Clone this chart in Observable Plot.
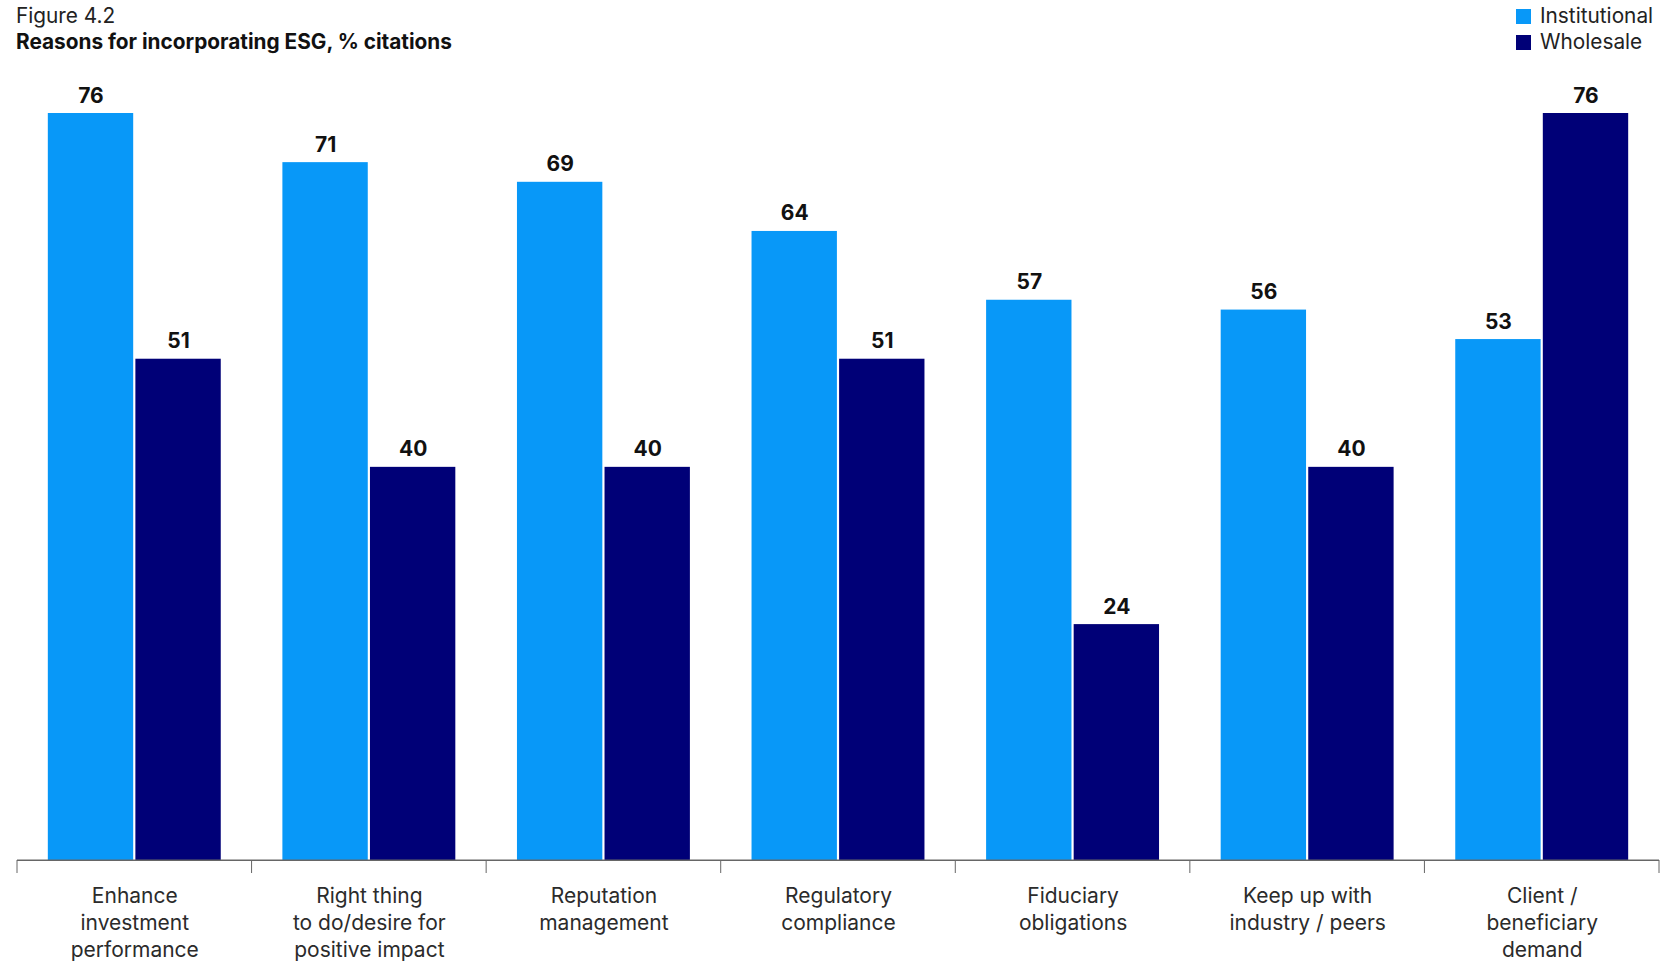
<!DOCTYPE html>
<html><head><meta charset="utf-8">
<script src="https://cdn.jsdelivr.net/npm/d3@7"></script>
<script src="https://cdn.jsdelivr.net/npm/@observablehq/plot@0.6"></script>
<style>
body{margin:0;background:#fff;font-family:Inter,"Noto Sans",sans-serif;}
#wrap{position:relative;width:1671px;height:962px;overflow:hidden;}
#chart{position:absolute;left:0;top:0;}
#title{position:absolute;left:16px;top:3px;font-size:20.8px;line-height:26px;color:#222;}
#title .sub{font-weight:700;color:#111;}
#legend{position:absolute;left:1516px;top:3px;font-size:20.8px;line-height:26px;color:#222;}
#legend .row{display:flex;align-items:center;}
#legend .sw{width:15px;height:15px;margin-right:9px;}
</style></head><body>
<div id="wrap">
<div id="chart"></div>
<div id="title"><div>Figure 4.2</div><div class="sub">Reasons for incorporating ESG, % citations</div></div>
<div id="legend"></div>
</div>
<script>
const categories = ["Enhance investment performance","Right thing to do/desire for positive impact","Reputation management","Regulatory compliance","Fiduciary obligations","Keep up with industry / peers","Client / beneficiary demand"];
const tickLabels = ["Enhance\ninvestment\nperformance","Right thing\nto do/desire for\npositive impact","Reputation\nmanagement","Regulatory\ncompliance","Fiduciary\nobligations","Keep up with\nindustry / peers","Client /\nbeneficiary\ndemand"];
const series = ["Institutional","Wholesale"];
const institutional = [76,71,69,64,57,56,53];
const wholesale = [51,40,40,51,24,40,76];
const colors = ["#0898f8","#000077"];

const data = categories.flatMap((c,i)=>[
  {category:c, series:series[0], value:institutional[i]},
  {category:c, series:series[1], value:wholesale[i]}
]);

const plot = Plot.plot({
  width:1671, height:962,
  marginLeft:17, marginRight:12, marginTop:113, marginBottom:102,
  style:{fontFamily:"Inter, 'Noto Sans', sans-serif", background:"transparent"},
  fx:{domain:categories, padding:0, round:false, label:null},
  x:{domain:series, paddingInner:0.025, paddingOuter:0.352, round:false, axis:null},
  y:{domain:[0,76], axis:null},
  color:{domain:series, range:colors},
  marks:[
    Plot.barY(data,{fx:"category", x:"series", y:"value", fill:"series"}),
    Plot.text(data,{fx:"category", x:"series", y:"value", text:d=>String(d.value), lineAnchor:"bottom", dy:-11, fontSize:21, fontWeight:700, fill:"#111"}),
    Plot.ruleY([0],{stroke:"#666", strokeWidth:1}),
    Plot.axisFx({anchor:"bottom", tickSize:0, tickPadding:24, fontSize:21, lineHeight:1.27, label:null, color:"#2b2b2b",
      tickFormat:c=>tickLabels[categories.indexOf(c)]})
  ]
});

// boundary ticks between category groups, from the fx band scale
const fx = plot.scale("fx");
const yS = plot.scale("y");
const edges = categories.map(c=>fx.apply(c)).concat([fx.apply(categories[categories.length-1]) + fx.bandwidth]);
const base = yS.apply(0);
const g = d3.select(plot).append("g").attr("stroke","#666").attr("stroke-width",1);
edges.forEach(x=>{
  g.append("line").attr("x1",x).attr("x2",x).attr("y1",base).attr("y2",base+13);
});
d3.select(plot).append("line").attr("x1",edges[0]).attr("x2",edges[edges.length-1]).attr("y1",base).attr("y2",base).attr("stroke","#666");

document.getElementById("chart").appendChild(plot);

const legend = d3.select("#legend");
series.forEach((s,i)=>{
  const row = legend.append("div").attr("class","row");
  row.append("div").attr("class","sw").style("background",colors[i]);
  row.append("span").text(s);
});
</script>
</body></html>
